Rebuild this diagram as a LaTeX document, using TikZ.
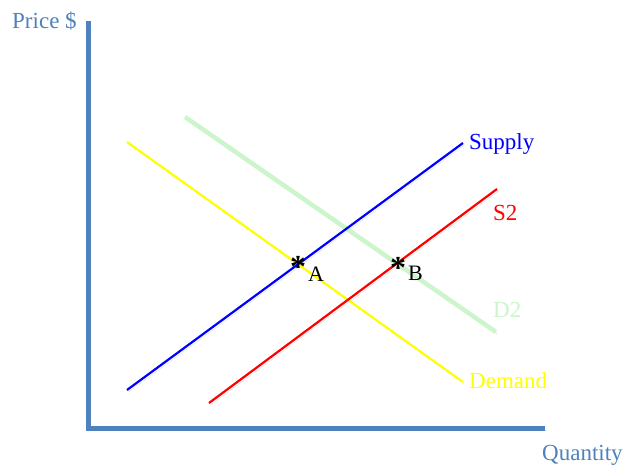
\documentclass[tikz,border=0pt]{standalone}
\usepackage{fontspec}
\setmainfont{Liberation Serif}
\usepackage{xcolor}
\definecolor{axisblue}{HTML}{4F81BD}
\definecolor{supplyblue}{HTML}{0000FF}
\definecolor{shiftred}{HTML}{FF0000}
\definecolor{demandyellow}{HTML}{FFFF00}
\definecolor{paleGreen}{HTML}{CCF5CC}
\tikzset{
  dropshadow/.style={preaction={draw=black!12,transform canvas={shift={(1.5pt,-2pt)}}}},
  axisline/.style={draw=axisblue,line width=5pt,dropshadow},
  curve/.style={line width=2.2pt,dropshadow},
  curvelbl/.style={anchor=base west,inner sep=0pt,font=\fontsize{23}{27}\selectfont},
  pointlbl/.style={anchor=base west,inner sep=0pt,font=\fontsize{22}{26}\selectfont},
  star/.style={anchor=base,inner sep=0pt,font=\fontsize{32}{36}\selectfont\bfseries}
}

\begin{document}
\begin{tikzpicture}[x=1pt,y=-1pt]
  \useasboundingbox (0,0) rectangle (624,464);

  % axes
  \coordinate (top) at (88.5,21);
  \coordinate (origin) at (88.5,428);
  \coordinate (right) at (545,428);
  \draw[axisline] (top) -- (origin) -- (right);
  \node[curvelbl,text=axisblue] (pricelbl) at (12,28) {Price \$};
  \node[curvelbl,text=axisblue] (qtylbl) at (542,460) {Quantity};

  % demand curves
  \coordinate (d2a) at (185,117);
  \coordinate (d2b) at (496,332);
  \draw[curve,paleGreen,line width=4.5pt] (d2a) -- (d2b);
  \coordinate (da) at (127,142);
  \coordinate (db) at (463,382);
  \draw[curve,demandyellow] (da) -- (db);

  % supply curves
  \coordinate (sa) at (127,390);
  \coordinate (sb) at (463,143);
  \draw[curve,supplyblue] (sa) -- (sb);
  \coordinate (s2a) at (209,403);
  \coordinate (s2b) at (497,189);
  \draw[curve,shiftred] (s2a) -- (s2b);

  \node[curvelbl,text=supplyblue] (supplylbl) at (469,149) {Supply};
  \node[curvelbl,text=shiftred] (s2lbl) at (493,220) {S2};
  \node[curvelbl,text=paleGreen] (d2lbl) at (493,317) {D2};
  \node[curvelbl,text=demandyellow] (demandlbl) at (469,388) {Demand};

  % equilibria
  \node[star] (starA) at (298,277) {*};
  \node[star] (starB) at (398,278) {*};
  \node[pointlbl] (ptA) at (308,281) {A};
  \node[pointlbl] (ptB) at (408,280) {B};
\end{tikzpicture}
\end{document}
